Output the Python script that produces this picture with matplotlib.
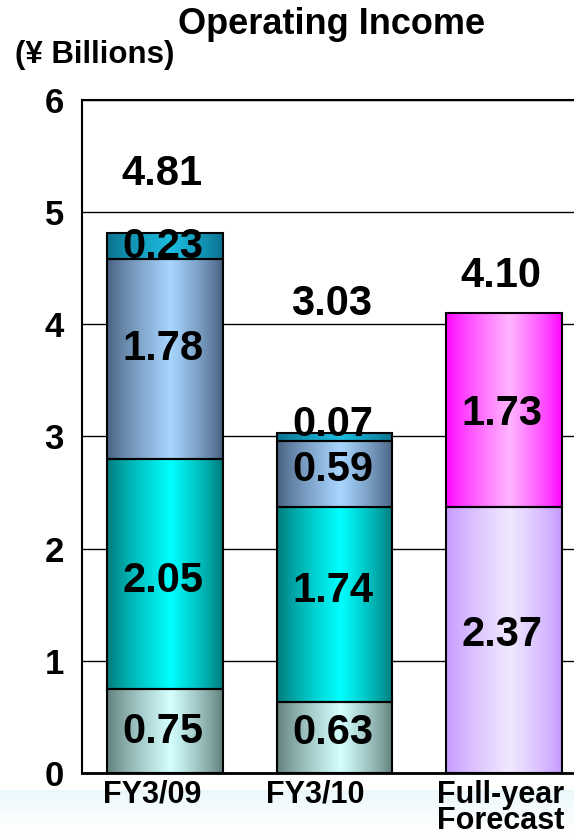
import numpy as np
import matplotlib
matplotlib.use("Agg")
import matplotlib.pyplot as plt
from matplotlib.colors import to_rgb
from matplotlib.transforms import ScaledTranslation

plt.rcParams['font.family'] = ['Liberation Sans', 'DejaVu Sans']
plt.rcParams['font.weight'] = 'bold'

# ---- data (¥ billions) ----
categories = ['FY3/09', 'FY3/10', 'Full-year\nForecast']
seg_base = [0.75, 0.63]        # lowest layer, actual years
seg_second = [2.05, 1.74]
seg_third = [1.78, 0.59]
seg_top = [0.23, 0.07]
forecast_lower = [2.37]
forecast_upper = [1.73]
totals = [4.81, 3.03, 4.10]
y_ticks = [0, 1, 2, 3, 4, 5, 6]

# ---- styling ----
# (edge colour, centre colour) for each horizontal gradient
layer_colors = [
    ('#5e7c78', '#d4ffff'),
    ('#007777', '#00ffff'),
    ('#465e7e', '#a8d6ff'),
    ('#0b6f8c', '#1cbde0'),
]
forecast_colors = [
    ('#c498ff', '#f0e8ff'),
    ('#ff00ff', '#ffb4ff'),
]
# vertical nudges (pixels, up) for segment value labels
actual_nudges = [[3, 9], [-3, 18], [14, 8], [3, 16]]
forecast_nudges = [9, 0]
total_offsets = [63, 133, 41]
xlabel_shift = [-13, -19, -3]

W, H, DPI = 574, 840, 100
fig = plt.figure(figsize=(W / DPI, H / DPI), dpi=DPI)

# pale tint fading in along the bottom edge of the slide
bg = fig.add_axes([0, 0, 1, 0.06], zorder=-5)
grad = np.linspace(1, 0, 64) ** 1.5
white = np.array([1, 1, 1])
tint = np.array(to_rgb('#eaf8fb'))
bg.imshow(white[None, None, :] * (1 - grad[:, None, None]) +
          tint[None, None, :] * grad[:, None, None],
          aspect='auto', extent=(0, 1, 0, 1))
bg.axis('off')

ax = fig.add_axes([82 / W, 1 - 773 / H, 1 - 82 / W, 673 / H])
x = np.arange(len(categories))
bar_w = 0.68


def gradient_fill(patch, edge, centre, n=200):
    x0, y0 = patch.get_x(), patch.get_y()
    w, h = patch.get_width(), patch.get_height()
    t = np.linspace(0, 1, n)
    peak = 0.55
    prof = np.where(t < peak, t / peak, (1 - t) / (1 - peak))
    prof = np.clip(prof, 0, 1) ** 0.8
    e, c = np.array(to_rgb(edge)), np.array(to_rgb(centre))
    img = e[None, :] * (1 - prof[:, None]) + c[None, :] * prof[:, None]
    im = ax.imshow(img[None, :, :], extent=(x0, x0 + w, y0, y0 + h),
                   aspect='auto', zorder=2, interpolation='bilinear')
    im.set_clip_path(patch)


def seg_label(patch, text, nudge):
    cx = patch.get_x() + patch.get_width() / 2
    cy = patch.get_y() + patch.get_height() / 2
    ax.annotate(text, (cx, cy), xytext=(-2, nudge - 15),
                textcoords='offset pixels', ha='center', va='baseline',
                fontsize=30, fontweight='bold', color='black', zorder=5)


# actual years: four stacked layers
layers = [seg_base, seg_second, seg_third, seg_top]
bottom = np.zeros(2)
for li, vals in enumerate(layers):
    bars = ax.bar(x[:2], vals, bar_w, bottom=bottom, facecolor='none',
                  edgecolor='black', linewidth=1.5, zorder=3)
    for bi, p in enumerate(bars):
        gradient_fill(p, *layer_colors[li])
        seg_label(p, f'{vals[bi]:.2f}', actual_nudges[li][bi])
    bottom = bottom + np.array(vals)

# forecast: two stacked layers
fbottom = np.zeros(1)
for li, vals in enumerate([forecast_lower, forecast_upper]):
    bars = ax.bar(x[2:], vals, bar_w, bottom=fbottom, facecolor='none',
                  edgecolor='black', linewidth=1.5, zorder=3)
    for bi, p in enumerate(bars):
        gradient_fill(p, *forecast_colors[li])
        seg_label(p, f'{vals[bi]:.2f}', forecast_nudges[li])
    fbottom = fbottom + np.array(vals)

# totals above each bar
for i, tot in enumerate(totals):
    ax.annotate(f'{tot:.2f}', (x[i], tot), xytext=(-3, total_offsets[i] - 15),
                textcoords='offset pixels', ha='center', va='baseline',
                fontsize=30, fontweight='bold', zorder=5)

ax.set_xlim(-0.49, 2.413)
ax.set_ylim(0, 6)
ax.set_yticks(y_ticks)
ax.set_yticklabels([str(v) for v in y_ticks], fontsize=25, fontweight='bold')
ax.set_xticks(x)
ax.set_xticklabels(categories, fontsize=22, fontweight='bold', linespacing=0.85)
ax.tick_params(axis='both', length=0)
ax.tick_params(axis='y', pad=13)
ax.tick_params(axis='x', pad=5)
for lbl, dx in zip(ax.get_xticklabels(), xlabel_shift):
    lbl.set_transform(lbl.get_transform() +
                      ScaledTranslation(dx / DPI, 0, fig.dpi_scale_trans))

ax.yaxis.grid(True, color='black', linewidth=1.0, zorder=0)
ax.set_axisbelow(True)
ax.spines['right'].set_visible(False)
ax.spines['left'].set_linewidth(1.5)
ax.spines['top'].set_linewidth(1.5)
ax.spines['bottom'].set_linewidth(2.0)
ax.patch.set_alpha(0)

fig.text(332 / W, 1 - 25 / H, 'Operating Income', ha='center', va='center',
         fontsize=26, fontweight='bold')
fig.text(15 / W, 1 - 55 / H, '(¥ Billions)', ha='left', va='center',
         fontsize=22.5, fontweight='bold')

fig.savefig('out.png', dpi=DPI)
